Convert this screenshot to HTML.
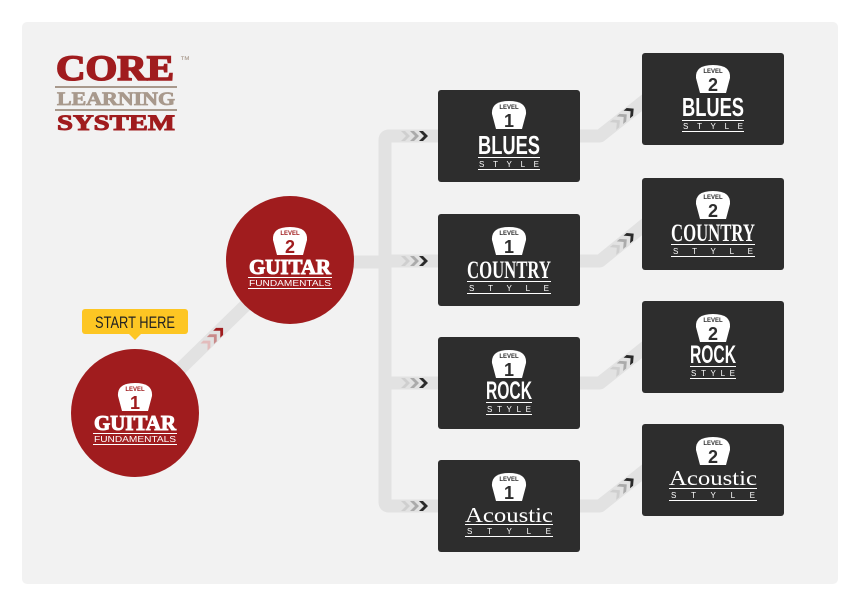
<!DOCTYPE html>
<html><head><meta charset="utf-8"><style>
html,body{margin:0;padding:0;background:#fff;}
svg{display:block;}
.t{font-family:"Liberation Sans Narrow","Liberation Sans",sans-serif;font-weight:bold;fill:#fff;}
.s{font-family:"Liberation Sans",sans-serif;fill:#fff;font-size:8px;}
.ser{font-family:"Liberation Serif",serif;fill:#fff;}
.lv{font-family:"Liberation Sans",sans-serif;font-size:6px;font-weight:bold;}
</style></head><body>
<svg width="860" height="606" viewBox="0 0 860 606" xmlns="http://www.w3.org/2000/svg">
<defs>
<g id="badge">
<path d="M-13,13 L-17,-2 Q-18,-15 0,-15 Q18,-15 17,-2 L13,13 Z" fill="#fff"/>
</g>
<g id="chev">
<path d="M0,-5 L4,-5 L9,0 L4,5 L0,5 L5,0 Z" fill="#cfcfcf"/>
<path d="M9,-5 L13,-5 L18,0 L13,5 L9,5 L14,0 Z" fill="#ababab"/>
<path d="M18,-5 L22,-5 L27,0 L22,5 L18,5 L23,0 Z" fill="#2a2a2a"/>
</g>
</defs>
<rect x="22" y="22" width="816" height="562" rx="5" fill="#f2f2f2"/>

<text x="56" y="80" font-family="Liberation Serif,serif" font-weight="bold" font-size="36" fill="#a01c1e" stroke="#a01c1e" stroke-width="1.6" textLength="118" lengthAdjust="spacingAndGlyphs">CORE</text>
<text x="180" y="63" font-family="Liberation Sans,sans-serif" font-size="10" fill="#a8998c">™</text>
<rect x="55" y="86" width="122" height="2" fill="#a8998c"/>
<text x="57" y="105" font-family="Liberation Serif,serif" font-weight="bold" font-size="19" fill="#a8998c" stroke="#a8998c" stroke-width="0.8" textLength="118" lengthAdjust="spacingAndGlyphs">LEARNING</text>
<rect x="55" y="109" width="122" height="2" fill="#a8998c"/>
<text x="57" y="130" font-family="Liberation Serif,serif" font-weight="bold" font-size="22" fill="#a01c1e" stroke="#a01c1e" stroke-width="1" textLength="118" lengthAdjust="spacingAndGlyphs">SYSTEM</text>

<g stroke="#e2e2e2" stroke-width="13" fill="none" stroke-linejoin="round">
<line x1="135" y1="413" x2="290" y2="262"/>
<path d="M290,262 L385,262"/>
<path d="M445,136 L389,136 Q385,136 385,140 L385,502 Q385,506 389,506 L445,506"/>
<line x1="385" y1="261" x2="445" y2="261"/>
<line x1="385" y1="383" x2="445" y2="383"/>
<path d="M575,136 L600,136 L648,98"/>
<path d="M575,261 L600,261 L648,222"/>
<path d="M575,383 L600,383 L648,345"/>
<path d="M575,506 L600,506 L648,468"/>
</g>
<use href="#chev" x="401" y="136"/>
<use href="#chev" x="401" y="261"/>
<use href="#chev" x="401" y="383"/>
<use href="#chev" x="401" y="506"/>
<g transform="translate(613,126) rotate(-40)"><use href="#chev"/></g>
<g transform="translate(613,251) rotate(-40)"><use href="#chev"/></g>
<g transform="translate(613,373) rotate(-40)"><use href="#chev"/></g>
<g transform="translate(613,496) rotate(-40)"><use href="#chev"/></g>
<g transform="translate(204,347) rotate(-45)">
<path d="M0,-5 L4,-5 L9,0 L4,5 L0,5 L5,0 Z" fill="#e3bcbc"/>
<path d="M9,-5 L13,-5 L18,0 L13,5 L9,5 L14,0 Z" fill="#c98a8a"/>
<path d="M18,-5 L22,-5 L27,0 L22,5 L18,5 L23,0 Z" fill="#a01c1e"/>
</g>

<circle cx="290" cy="260" r="64" fill="#a01c1e"/>
<use href="#badge" x="290" y="242"/>
<text x="290" y="235" class="lv" fill="#a01c1e" text-anchor="middle">LEVEL</text>
<text x="290" y="253" font-family="Liberation Sans,sans-serif" font-weight="bold" font-size="18" fill="#a01c1e" text-anchor="middle">2</text>
<text x="290" y="274" font-family="Liberation Serif,serif" font-weight="bold" font-size="21" fill="#fff" stroke="#fff" stroke-width="1" text-anchor="middle" textLength="82" lengthAdjust="spacingAndGlyphs">GUITAR</text>
<rect x="248" y="277" width="84" height="1" fill="#fff"/>
<text x="290" y="286" class="s" text-anchor="middle" textLength="82" lengthAdjust="spacingAndGlyphs">FUNDAMENTALS</text>
<rect x="248" y="288" width="84" height="1" fill="#fff"/>

<circle cx="135" cy="413" r="64" fill="#a01c1e"/>
<use href="#badge" x="135" y="398"/>
<text x="135" y="391" class="lv" fill="#a01c1e" text-anchor="middle">LEVEL</text>
<text x="135" y="409" font-family="Liberation Sans,sans-serif" font-weight="bold" font-size="18" fill="#a01c1e" text-anchor="middle">1</text>
<text x="135" y="430" font-family="Liberation Serif,serif" font-weight="bold" font-size="21" fill="#fff" stroke="#fff" stroke-width="1" text-anchor="middle" textLength="82" lengthAdjust="spacingAndGlyphs">GUITAR</text>
<rect x="93" y="433" width="84" height="1" fill="#fff"/>
<text x="135" y="442" class="s" text-anchor="middle" textLength="82" lengthAdjust="spacingAndGlyphs">FUNDAMENTALS</text>
<rect x="93" y="444" width="84" height="1" fill="#fff"/>

<rect x="82" y="309" width="106" height="25" rx="3" fill="#fdc623"/>
<path d="M129,334 L135,340 L141,334 Z" fill="#fdc623"/>
<text x="135" y="328" font-family="Liberation Sans Narrow,Liberation Sans,sans-serif" font-size="17" fill="#222" text-anchor="middle" textLength="80" lengthAdjust="spacingAndGlyphs">START HERE</text>

<g transform="translate(438,90)">
<rect width="142" height="92" rx="3" fill="#2d2d2d"/>
<use href="#badge" x="71" y="26"/>
<text x="71" y="19" class="lv" fill="#2d2d2d" text-anchor="middle">LEVEL</text>
<text x="71" y="37" font-family="Liberation Sans,sans-serif" font-weight="bold" font-size="18" fill="#2d2d2d" text-anchor="middle">1</text>
<text x="71" y="64" class="t" font-size="26" text-anchor="middle" textLength="62" lengthAdjust="spacingAndGlyphs">BLUES</text>
<rect x="40" y="67" width="62" height="1" fill="#fff"/>
<text x="71" y="77" class="s" text-anchor="middle" textLength="60" lengthAdjust="spacing">S T Y L E</text>
<rect x="40" y="79" width="62" height="1" fill="#fff"/>
</g>
<g transform="translate(438,214)">
<rect width="142" height="92" rx="3" fill="#2d2d2d"/>
<use href="#badge" x="71" y="28"/>
<text x="71" y="21" class="lv" fill="#2d2d2d" text-anchor="middle">LEVEL</text>
<text x="71" y="39" font-family="Liberation Sans,sans-serif" font-weight="bold" font-size="18" fill="#2d2d2d" text-anchor="middle">1</text>
<text x="71" y="64" font-family="Liberation Serif,serif" font-weight="bold" font-size="25" fill="#fff" text-anchor="middle" textLength="84" lengthAdjust="spacingAndGlyphs">COUNTRY</text>
<rect x="29" y="67" width="84" height="1" fill="#fff"/>
<text x="71" y="77" class="s" text-anchor="middle" textLength="80" lengthAdjust="spacing">S T Y L E</text>
<rect x="29" y="79" width="84" height="1" fill="#fff"/>
</g>
<g transform="translate(438,337)">
<rect width="142" height="92" rx="3" fill="#2d2d2d"/>
<use href="#badge" x="71" y="28"/>
<text x="71" y="21" class="lv" fill="#2d2d2d" text-anchor="middle">LEVEL</text>
<text x="71" y="39" font-family="Liberation Sans,sans-serif" font-weight="bold" font-size="18" fill="#2d2d2d" text-anchor="middle">1</text>
<text x="71" y="62" class="t" font-size="25" text-anchor="middle" textLength="46" lengthAdjust="spacingAndGlyphs">ROCK</text>
<rect x="48" y="65" width="46" height="1" fill="#fff"/>
<text x="71" y="75" class="s" text-anchor="middle" textLength="44" lengthAdjust="spacing">S T Y L E</text>
<rect x="48" y="77" width="46" height="1" fill="#fff"/>
</g>
<g transform="translate(438,460)">
<rect width="142" height="92" rx="3" fill="#2d2d2d"/>
<use href="#badge" x="71" y="28"/>
<text x="71" y="21" class="lv" fill="#2d2d2d" text-anchor="middle">LEVEL</text>
<text x="71" y="39" font-family="Liberation Sans,sans-serif" font-weight="bold" font-size="18" fill="#2d2d2d" text-anchor="middle">1</text>
<text x="71" y="62" class="ser" font-size="21" text-anchor="middle" textLength="88" lengthAdjust="spacingAndGlyphs">Acoustic</text>
<rect x="27" y="64" width="88" height="1" fill="#fff"/>
<text x="71" y="74" class="s" text-anchor="middle" textLength="84" lengthAdjust="spacing">S T Y L E</text>
<rect x="27" y="76" width="88" height="1" fill="#fff"/>
</g>

<g transform="translate(642,53)">
<rect width="142" height="92" rx="3" fill="#2d2d2d"/>
<use href="#badge" x="71" y="27"/>
<text x="71" y="20" class="lv" fill="#2d2d2d" text-anchor="middle">LEVEL</text>
<text x="71" y="38" font-family="Liberation Sans,sans-serif" font-weight="bold" font-size="18" fill="#2d2d2d" text-anchor="middle">2</text>
<text x="71" y="63" class="t" font-size="26" text-anchor="middle" textLength="62" lengthAdjust="spacingAndGlyphs">BLUES</text>
<rect x="40" y="67" width="62" height="1" fill="#fff"/>
<text x="71" y="76" class="s" text-anchor="middle" textLength="60" lengthAdjust="spacing">S T Y L E</text>
<rect x="40" y="78" width="62" height="1" fill="#fff"/>
</g>
<g transform="translate(642,178)">
<rect width="142" height="92" rx="3" fill="#2d2d2d"/>
<use href="#badge" x="71" y="28"/>
<text x="71" y="21" class="lv" fill="#2d2d2d" text-anchor="middle">LEVEL</text>
<text x="71" y="39" font-family="Liberation Sans,sans-serif" font-weight="bold" font-size="18" fill="#2d2d2d" text-anchor="middle">2</text>
<text x="71" y="63" font-family="Liberation Serif,serif" font-weight="bold" font-size="25" fill="#fff" text-anchor="middle" textLength="84" lengthAdjust="spacingAndGlyphs">COUNTRY</text>
<rect x="29" y="66" width="84" height="1" fill="#fff"/>
<text x="71" y="76" class="s" text-anchor="middle" textLength="80" lengthAdjust="spacing">S T Y L E</text>
<rect x="29" y="78" width="84" height="1" fill="#fff"/>
</g>
<g transform="translate(642,301)">
<rect width="142" height="92" rx="3" fill="#2d2d2d"/>
<use href="#badge" x="71" y="28"/>
<text x="71" y="21" class="lv" fill="#2d2d2d" text-anchor="middle">LEVEL</text>
<text x="71" y="39" font-family="Liberation Sans,sans-serif" font-weight="bold" font-size="18" fill="#2d2d2d" text-anchor="middle">2</text>
<text x="71" y="62" class="t" font-size="25" text-anchor="middle" textLength="46" lengthAdjust="spacingAndGlyphs">ROCK</text>
<rect x="48" y="65" width="46" height="1" fill="#fff"/>
<text x="71" y="75" class="s" text-anchor="middle" textLength="44" lengthAdjust="spacing">S T Y L E</text>
<rect x="48" y="77" width="46" height="1" fill="#fff"/>
</g>
<g transform="translate(642,424)">
<rect width="142" height="92" rx="3" fill="#2d2d2d"/>
<use href="#badge" x="71" y="28"/>
<text x="71" y="21" class="lv" fill="#2d2d2d" text-anchor="middle">LEVEL</text>
<text x="71" y="39" font-family="Liberation Sans,sans-serif" font-weight="bold" font-size="18" fill="#2d2d2d" text-anchor="middle">2</text>
<text x="71" y="61" class="ser" font-size="21" text-anchor="middle" textLength="88" lengthAdjust="spacingAndGlyphs">Acoustic</text>
<rect x="27" y="64" width="88" height="1" fill="#fff"/>
<text x="71" y="74" class="s" text-anchor="middle" textLength="84" lengthAdjust="spacing">S T Y L E</text>
<rect x="27" y="76" width="88" height="1" fill="#fff"/>
</g>
</svg>
</body></html>
